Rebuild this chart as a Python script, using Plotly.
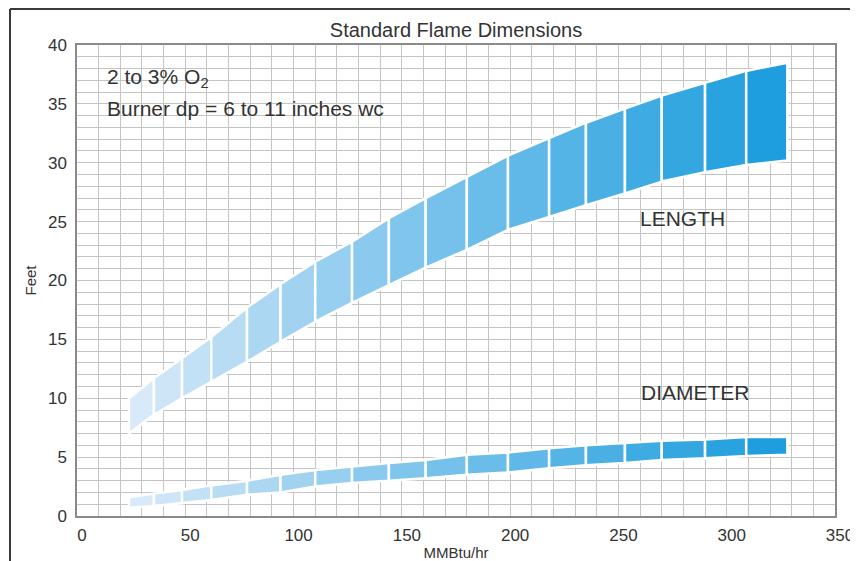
import plotly.graph_objects as go

# Segment boundaries (MMBtu/hr) shared by both bands
x_edges = [24, 35.5, 48.5, 62, 78.5, 94, 110, 127, 144, 161, 180, 199, 218, 235, 253, 270, 290, 309, 328]
# LENGTH band (feet)
length_upper = [10.0, 11.7, 13.4, 15.2, 17.7, 19.7, 21.6, 23.3, 25.3, 27.0, 28.8, 30.6, 32.1, 33.4, 34.6, 35.7, 36.8, 37.8, 38.5]
length_lower = [7.0, 8.6, 10.0, 11.4, 13.1, 14.8, 16.5, 18.1, 19.6, 21.1, 22.6, 24.3, 25.4, 26.4, 27.4, 28.4, 29.2, 29.8, 30.2]
# DIAMETER band (feet)
diam_upper = [1.6, 1.9, 2.2, 2.6, 3.0, 3.5, 3.9, 4.2, 4.5, 4.75, 5.2, 5.4, 5.75, 6.0, 6.2, 6.4, 6.5, 6.7, 6.7]
diam_lower = [0.7, 0.85, 1.1, 1.35, 1.8, 2.0, 2.5, 2.8, 3.0, 3.2, 3.5, 3.7, 4.05, 4.3, 4.5, 4.75, 4.9, 5.1, 5.2]

x_ticks = [0, 50, 100, 150, 200, 250, 300, 350]
y_ticks = [0, 5, 10, 15, 20, 25, 30, 35, 40]

c_light = (216, 233, 249)
c_dark = (30, 158, 222)


def seg_color(i, n):
    t = i / (n - 1)
    r, g, b = (round(a + (bb - a) * t) for a, bb in zip(c_light, c_dark))
    return f"rgb({r},{g},{b})"


fig = go.Figure()
n = len(x_edges) - 1
for upper, lower in [(length_upper, length_lower), (diam_upper, diam_lower)]:
    for i in range(n):
        xs = [x_edges[i], x_edges[i + 1], x_edges[i + 1], x_edges[i], x_edges[i]]
        ys = [upper[i], upper[i + 1], lower[i + 1], lower[i], upper[i]]
        fig.add_trace(go.Scatter(
            x=xs, y=ys, mode="lines", fill="toself",
            fillcolor=seg_color(i, n),
            line=dict(color="white", width=2.5),
            hoverinfo="skip", showlegend=False))

grid_c = "#c4c4c4"
font_fam = "Liberation Sans, Arial, sans-serif"
txt_c = "#333333"

# page body has an 8px margin: figure is sized/offset so the plot area lands
# at x 77..835, y 45..516 of the 858x561 window
fig.update_layout(
    width=850, height=553,
    margin=dict(l=69, r=23, t=37, b=45),
    paper_bgcolor="white", plot_bgcolor="white",
    font=dict(family=font_fam, color=txt_c, size=16),
    title=dict(text="Standard Flame Dimensions", x=(456 - 8) / 850, xanchor="center",
               y=1 - (30 - 8) / 553, yanchor="middle", font=dict(size=20, color=txt_c)),
    showlegend=False,
)
fig.update_xaxes(
    range=[0, 350], tickvals=x_ticks, showgrid=True, gridcolor=grid_c, gridwidth=1.3,
    minor=dict(dtick=10, tick0=0, showgrid=True, gridcolor=grid_c, gridwidth=1.3),
    showline=True, linecolor="#8a8a8a", linewidth=1.5, mirror=True,
    zeroline=False, ticks="", ticklabelstandoff=3, ticklabelshift=5,
    tickfont=dict(size=17, color=txt_c), automargin=False,
    title=dict(text="MMBtu/hr", standoff=4, font=dict(size=15, color=txt_c)),
)
fig.update_yaxes(
    range=[0, 40], tickvals=y_ticks, showgrid=True, gridcolor=grid_c, gridwidth=1.3,
    minor=dict(dtick=1, tick0=0, showgrid=True, gridcolor=grid_c, gridwidth=1.3),
    showline=True, linecolor="#8a8a8a", linewidth=1.5, mirror=True,
    zeroline=False, ticks="", ticklabelstandoff=5, automargin=False,
    tickfont=dict(size=17, color=txt_c),
    title=dict(text="Feet", standoff=8, font=dict(size=15, color=txt_c)),
)

fig.add_annotation(x=12.9, y=37.2, xref="x", yref="y", xanchor="left", yanchor="middle",
                   text="2 to 3% O<sub>2</sub>", showarrow=False, font=dict(size=21))
fig.add_annotation(x=12.9, y=34.6, xref="x", yref="y", xanchor="left", yanchor="middle",
                   text="Burner dp = 6 to 11 inches wc", showarrow=False, font=dict(size=21))
fig.add_annotation(x=279.5, y=25.3, xref="x", yref="y", xanchor="center", yanchor="middle",
                   text="LENGTH", showarrow=False, font=dict(size=21))
fig.add_annotation(x=285.5, y=10.5, xref="x", yref="y", xanchor="center", yanchor="middle",
                   text="DIAMETER", showarrow=False, font=dict(size=21))

# outer frame lines (top and left)
fy = 1 + (45 - 9) / 471
fx = (10 - 77) / 758
fig.add_shape(type="line", xref="paper", yref="paper", x0=fx, x1=1.04,
              y0=fy, y1=fy, line=dict(color="#3a3a3a", width=2))
fig.add_shape(type="line", xref="paper", yref="paper", x0=fx, x1=fx,
              y0=fy, y1=-0.1, line=dict(color="#3a3a3a", width=2))

fig.write_html("out.html")
